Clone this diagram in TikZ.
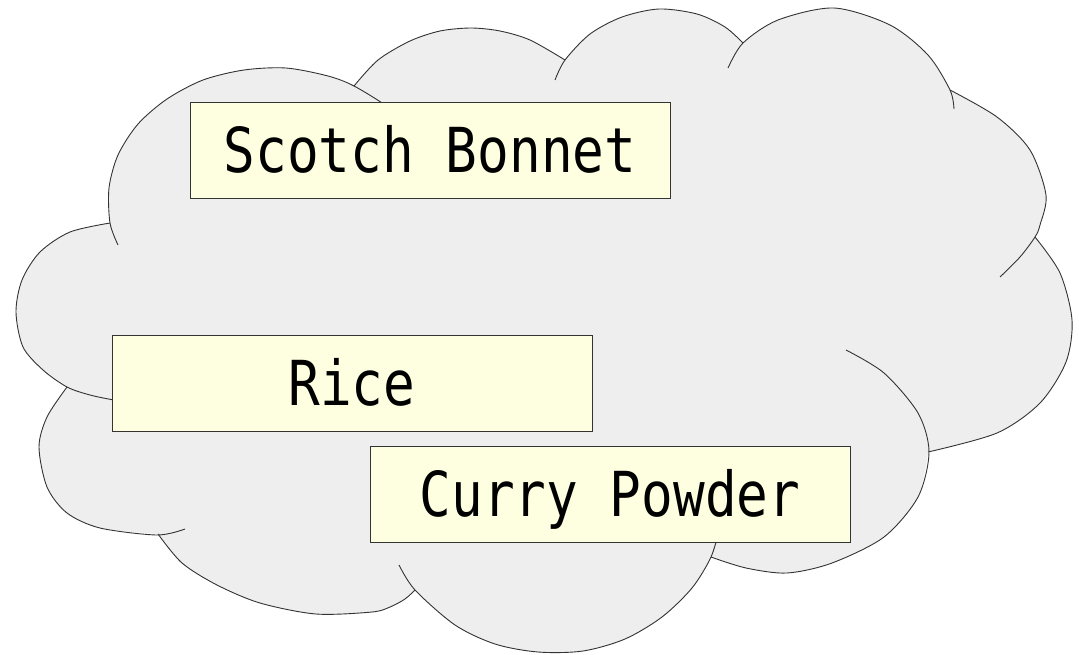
\documentclass[tikz,border=0pt]{standalone}
\usepackage{fontspec}
\newfontfamily\itemfont{DejaVu Sans Mono}[FakeStretch=0.85]
\definecolor{cloudgray}{HTML}{EEEEEE}
\definecolor{itembg}{HTML}{FEFEE0}
\definecolor{edgegray}{HTML}{333333}

\begin{document}
\begin{tikzpicture}[x=1pt, y=-1pt,
  bump/.style={draw=edgegray, line width=0.9pt},
  item/.style={draw=edgegray, line width=0.9pt, fill=itembg,
    minimum width=480pt, minimum height=96pt, inner sep=0pt,
    text height=45pt, text depth=0pt,
    font=\fontsize{62pt}{62pt}\selectfont\itemfont}]
  \useasboundingbox (0,0) rectangle (1079,654);

  % Cloud body
  \fill[cloudgray]
    plot[smooth] coordinates {(67,387) (43,370) (23,347) (16,312) (22,280) (40,252) (70,232) (110,223)}
    -- plot[smooth] coordinates {(110,223) (109,188) (118,155) (138,124) (167,99) (203,80) (244,70) (286,68) (328,76) (354,86)}
    -- plot[smooth] coordinates {(354,86) (378,60) (410,41) (440,31) (471,28) (500,31) (530,40) (565,60)}
    -- plot[smooth] coordinates {(565,60) (590,34) (622,17) (659,9) (697,14) (725,27) (743,43)}
    -- plot[smooth] coordinates {(743,43) (778,20) (834,8) (890,25) (928,55) (950,90)}
    -- plot[smooth] coordinates {(950,90) (997,117) (1030,150) (1046,195) (1040,225) (1035,237)}
    -- plot[smooth] coordinates {(1035,237) (1060,273) (1072,320) (1066,362) (1040,403) (997,433) (928,452)}
    -- plot[smooth] coordinates {(928,452) (918,497) (884,537) (832,563) (787,573) (746,568) (711,557)}
    -- plot[smooth] coordinates {(711,557) (692,588) (662,617) (625,639) (583,651) (538,652) (495,644) (455,625) (415,590)}
    -- plot[smooth] coordinates {(415,590) (405,599) (390,607) (372,612) (316,614) (260,603) (217,585) (182,563) (158,534)}
    -- plot[smooth] coordinates {(158,534) (100,528) (67,513) (47,487) (39,447) (47,417) (67,387)}
    -- cycle;

  % Cloud outline, one bump at a time
  \draw[bump] plot[smooth] coordinates {(110,223) (70,232) (40,252) (22,280) (16,312) (23,347) (43,370) (67,387) (90,395) (114,400) (135,403)};
  \draw[bump] plot[smooth] coordinates {(118,245) (110,223) (109,188) (118,155) (138,124) (167,99) (203,80) (244,70) (286,68) (328,76) (354,86) (388,107) (406,124)};
  \draw[bump] plot[smooth] coordinates {(354,86) (378,60) (410,41) (440,31) (471,28) (500,31) (530,40) (565,60)};
  \draw[bump] plot[smooth] coordinates {(555,80) (565,60) (590,34) (622,17) (659,9) (697,14) (725,27) (743,43)};
  \draw[bump] plot[smooth] coordinates {(728,68) (743,43) (778,20) (834,8) (890,25) (928,55) (950,90) (954,109)};
  \draw[bump] plot[smooth] coordinates {(950,90) (997,117) (1030,150) (1046,195) (1040,225) (1035,237) (1020,257) (1000,277)};
  \draw[bump] plot[smooth] coordinates {(1035,237) (1060,273) (1072,320) (1066,362) (1040,403) (997,433) (928,452)};
  \draw[bump] plot[smooth] coordinates {(846,350) (884,373) (918,413) (929,452) (918,497) (884,537) (832,563) (787,573) (746,568) (711,557)};
  \draw[bump] plot[smooth] coordinates {(720,527) (711,557) (692,588) (662,617) (625,639) (583,651) (538,652) (495,644) (455,625) (415,590) (399,565)};
  \draw[bump] plot[smooth] coordinates {(415,590) (405,599) (390,607) (372,612) (316,614) (260,603) (217,585) (182,563) (158,534)};
  \draw[bump] plot[smooth] coordinates {(185,529) (157,535) (100,528) (67,513) (47,487) (39,447) (47,417) (67,387)};

  % Items
  \node[item] (scotch) at (430,150) {Scotch Bonnet};
  \node[item] (rice)   at (352,383) {Rice};
  \node[item] (curry)  at (610,494) {Curry Powder};
\end{tikzpicture}
\end{document}
